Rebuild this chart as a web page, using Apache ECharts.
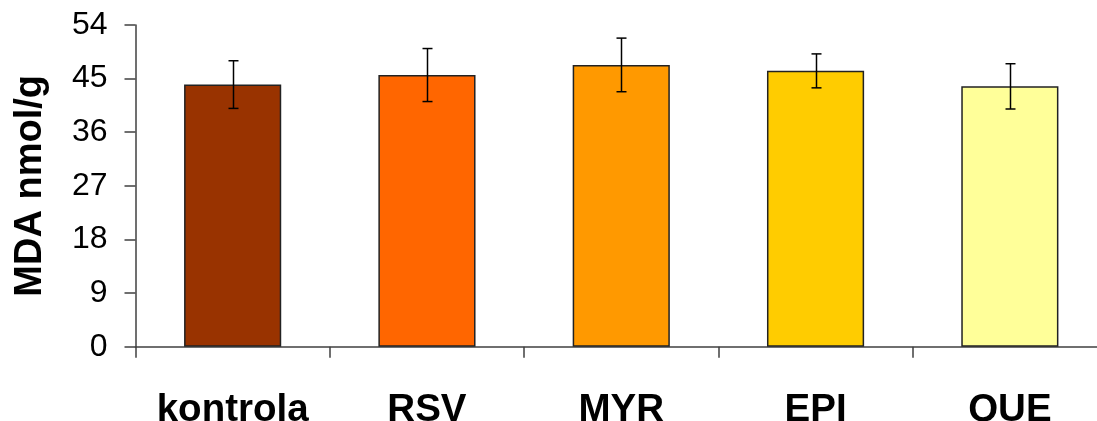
<!DOCTYPE html>
<html><head><meta charset="utf-8">
<script src="https://cdn.jsdelivr.net/npm/echarts@6/dist/echarts.min.js"></script>
<style>html,body{margin:0;padding:0;background:#fff}#c{width:1097px;height:421px}</style>
</head><body><div id="c"></div>
<script>
const categories = ['kontrola', 'RSV', 'MYR', 'EPI', 'QUE'];
const means = [44.0, 45.6, 47.3, 46.3, 43.7];
const errors = [4.0, 4.45, 4.5, 2.85, 3.8];
const barColors = ['#993300', '#FF6600', '#FF9900', '#FFCC00', '#FFFF99'];
const yTicks = [0, 9, 18, 27, 36, 45, 54];

const chart = echarts.init(document.getElementById('c'), null, {renderer: 'canvas'});
const font = 'Liberation Sans, Arial, sans-serif';
chart.setOption({
  animation: false,
  grid: {left: 135.5, top: 25, bottom: 74.3, right: -10, containLabel: false, outerBoundsMode: 'none'},
  xAxis: {
    type: 'category', data: categories,
    axisLine: {lineStyle: {color: '#404040', width: 1.5}},
    axisTick: {show: true, interval: 0, length: 11, lineStyle: {color: '#404040', width: 1.5}},
    axisLabel: {interval: 0, hideOverlap: false, fontFamily: font, fontWeight: 'bold', fontSize: 38.5, color: '#000', margin: 44}
  },
  yAxis: {
    type: 'value', min: yTicks[0], max: yTicks[yTicks.length - 1], interval: 9,
    name: 'MDA nmol/g', nameLocation: 'middle', nameGap: 86,
    nameTextStyle: {fontFamily: font, fontWeight: 'bold', fontSize: 38, color: '#000'},
    axisLine: {show: true, lineStyle: {color: '#404040', width: 1.5}},
    axisTick: {show: true, length: 11, lineStyle: {color: '#404040', width: 1.5}},
    axisLabel: {fontFamily: font, fontSize: 32, color: '#000', margin: 28},
    splitLine: {show: false}
  },
  series: [{
    type: 'bar', barWidth: '50%',
    data: means.map((v, i) => ({value: v, itemStyle: {color: barColors[i]}})),
    itemStyle: {borderColor: '#222', borderWidth: 1.5}
  }, {
    type: 'custom',
    data: means.map((v, i) => [i, v - errors[i], v + errors[i]]),
    renderItem: function (params, api) {
      const lo = api.coord([api.value(0), api.value(1)]);
      const hi = api.coord([api.value(0), api.value(2)]);
      const x = Math.round(lo[0]) + 0.5;
      const hw = 5;
      const st = {stroke: '#000', lineWidth: 1.5};
      return {type: 'group', children: [
        {type: 'line', shape: {x1: x, y1: lo[1], x2: x, y2: hi[1]}, style: st},
        {type: 'line', shape: {x1: x - hw, y1: lo[1], x2: x + hw, y2: lo[1]}, style: st},
        {type: 'line', shape: {x1: x - hw, y1: hi[1], x2: x + hw, y2: hi[1]}, style: st}
      ]};
    },
    z: 10
  }]
});
</script></body></html>
